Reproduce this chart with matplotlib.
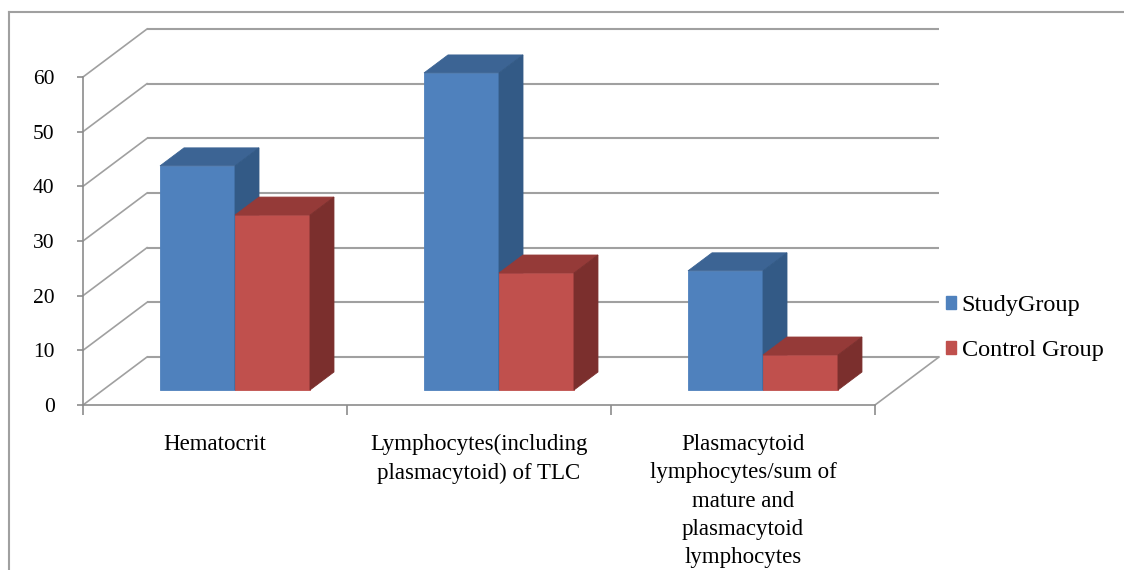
import matplotlib.pyplot as plt
from matplotlib.patches import Polygon, Patch
from matplotlib.lines import Line2D

plt.rcParams['font.family'] = ['Liberation Serif', 'DejaVu Serif']

categories = [
    'Hematocrit',
    'Lymphocytes(including\nplasmacytoid) of TLC',
    'Plasmacytoid\nlymphocytes/sum of\nmature and\nplasmacytoid\nlymphocytes',
]
series_names = ['StudyGroup', 'Control Group']
study_group = [41, 58, 21.8]
control_group = [32, 21.4, 6.4]
yticks = [0, 10, 20, 30, 40, 50, 60]

# face colours: front, top, side
face_colors = [
    ('#4f81bd', '#3c6494', '#335a86'),
    ('#c0504d', '#953a38', '#7b2f2d'),
]
grid_color = '#a0a0a0'

# oblique depth of the floor, in data units (x: categories, y: values)
DX = 0.2424
DY = 8.78
# bars sit in the middle of the floor depth
F0, F1 = 0.3125, 0.6875
BAR_W = 0.284
BAR_GAP = 0.216

fig = plt.figure(figsize=(11.24, 5.70), dpi=100)
ax = fig.add_axes([83 / 1124, 165 / 570, 792 / 1124, 328 / 570])
ax.set_xlim(0, len(categories))
ax.set_ylim(0, 60)

# back wall and side wall gridlines
for v in yticks:
    ax.plot([DX, len(categories) + DX], [v + DY, v + DY], color=grid_color,
            lw=1.5, clip_on=False, zorder=1, solid_capstyle='butt')
    ax.plot([0, DX], [v, v + DY], color=grid_color, lw=1.2,
            clip_on=False, zorder=1)
# right edge of the floor
ax.plot([len(categories), len(categories) + DX], [0, DY], color=grid_color,
        lw=1.2, clip_on=False, zorder=1)


def draw_bar(x0, v, colors):
    front, top, side = colors
    xa = x0 + F0 * DX
    xb = x0 + BAR_W + F0 * DX
    xc = x0 + F1 * DX
    xd = x0 + BAR_W + F1 * DX
    ya, yb = F0 * DY, F1 * DY
    ax.add_patch(Polygon([(xa, ya), (xb, ya), (xb, v + ya), (xa, v + ya)],
                         closed=True, fc=front, ec=front, lw=0.6,
                         clip_on=False, zorder=3))
    ax.add_patch(Polygon([(xa, v + ya), (xb, v + ya), (xd, v + yb), (xc, v + yb)],
                         closed=True, fc=top, ec=top, lw=0.6,
                         clip_on=False, zorder=3))
    ax.add_patch(Polygon([(xb, ya), (xd, yb), (xd, v + yb), (xb, v + ya)],
                         closed=True, fc=side, ec=side, lw=0.6,
                         clip_on=False, zorder=3))


for i in range(len(categories)):
    for s, vals in enumerate([study_group, control_group]):
        x0 = i + BAR_GAP + s * BAR_W
        draw_bar(x0, vals[i], face_colors[s])

# axes: only the front left and bottom edges
for side in ['top', 'right']:
    ax.spines[side].set_visible(False)
for side in ['left', 'bottom']:
    ax.spines[side].set_color('#8c8c8c')
    ax.spines[side].set_linewidth(1.2)

ax.set_yticks(yticks)
ax.set_yticklabels([str(t) for t in yticks], fontsize=15.5)
ax.tick_params(axis='y', length=4.5, width=1.2, color='#8c8c8c', pad=16)

ax.set_xticks(range(len(categories) + 1))
ax.set_xticklabels([])
ax.tick_params(axis='x', which='major', length=7.5, width=1.2,
               color='#8c8c8c', direction='out')
ax.set_xticks([i + 0.5 for i in range(len(categories))], minor=True)
ax.set_xticklabels(categories, minor=True, fontsize=16.5, linespacing=1.45)
ax.tick_params(axis='x', which='minor', length=0, pad=21)
ax.set_facecolor('none')

handles = [Patch(fc=c[0], ec=c[0]) for c in face_colors]
fig.legend(handles, series_names, loc='center left',
           bbox_to_anchor=(946 / 1124, 242 / 570), frameon=False,
           fontsize=17.5, handlelength=0.42, handleheight=0.42,
           handletextpad=0.22, labelspacing=0.98, borderpad=0,
           borderaxespad=0)

# chart area border
fig.add_artist(Line2D([9 / 1124, 1.0], [1 - 12 / 570, 1 - 12 / 570],
                      transform=fig.transFigure, color='#a0a0a0', lw=1.5))
fig.add_artist(Line2D([9 / 1124, 9 / 1124], [0, 1 - 12 / 570],
                      transform=fig.transFigure, color='#a0a0a0', lw=1.5))

fig.savefig('out.png', dpi=100)
